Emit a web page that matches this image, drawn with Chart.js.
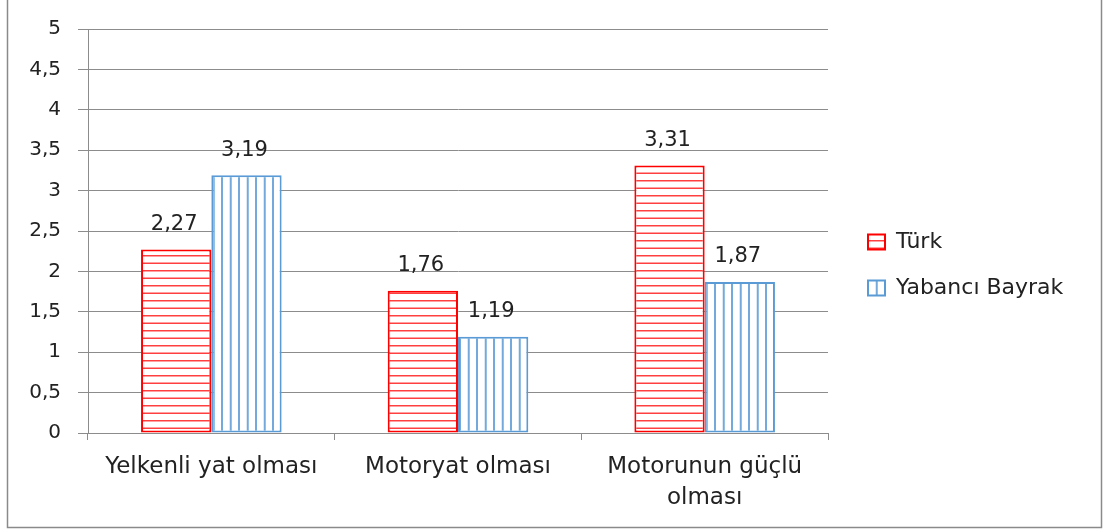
<!DOCTYPE html>
<html>
<head>
<meta charset="utf-8">
<script src="https://cdn.jsdelivr.net/npm/chart.js@4"></script>
<style>
  html, body { margin: 0; padding: 0; background: #fff; }
  #wrap { width: 1103px; height: 532px; }
</style>
</head>
<body>
<div id="wrap"><canvas id="barchart" width="1103" height="532"></canvas></div>
<script>
// data
var categories = [["Yelkenli yat olması"], ["Motoryat olması"], ["Motorunun güçlü", "olması"]];
var seriesNames = ["Türk", "Yabancı Bayrak"];
var turkValues = [2.27, 1.76, 3.31];
var yabanciValues = [3.19, 1.19, 1.87];
var yTicks = [0, 0.5, 1, 1.5, 2, 2.5, 3, 3.5, 4, 4.5, 5];

var textColor = '#222';
var gridColor = '#8c8c8c';
var fontFamily = '"DejaVu Sans", sans-serif';

// hatch fills like the excel patterns
function hatch(lineColor, vertical, step, lineW) {
  var size = step * 2;
  var c = document.createElement('canvas');
  c.width = size;
  c.height = size;
  var g = c.getContext('2d');
  g.fillStyle = '#fff';
  g.fillRect(0, 0, size, size);
  g.fillStyle = lineColor;
  for (var k = 0; k < 2; k++) {
    var p = k * step;
    if (vertical) g.fillRect(p, 0, lineW, size);
    else g.fillRect(0, p, size, lineW);
  }
  return g.createPattern(c, 'repeat');
}

var redFill = hatch('rgba(255,0,0,0.75)', false, 7.5, 1.5);
var blueFill = hatch('rgba(91,155,213,0.85)', true, 8.75, 2);

function comma(v) {
  return String(v).replace('.', ',');
}

// value labels above bars + frame round the chart
var extras = {
  id: 'extras',
  beforeLayout: function (chart) {
    var lg = chart.legend;
    if (lg && !lg._wrapped) {
      var f = lg.fit;
      lg.fit = function () {
        f.call(this);
        this.width = 275;
      };
      lg._wrapped = true;
    }
  },
  afterLayout: function (chart) {
    var lg = chart.legend;
    lg.left += 16;
    lg.right += 16;
    lg.top -= 15;
    lg.bottom -= 15;
  },
  beforeDraw: function (chart) {
    var ctx = chart.ctx;
    ctx.save();
    ctx.strokeStyle = '#8a8a8a';
    ctx.lineWidth = 1.5;
    ctx.strokeRect(7.5, -1, 1094, 528.5);
    ctx.restore();
  },
  afterDatasetsDraw: function (chart) {
    var ctx = chart.ctx;
    ctx.save();
    ctx.font = '21px ' + fontFamily;
    ctx.fillStyle = textColor;
    ctx.textAlign = 'center';
    ctx.textBaseline = 'middle';
    chart.data.datasets.forEach(function (ds, i) {
      var meta = chart.getDatasetMeta(i);
      meta.data.forEach(function (bar, j) {
        ctx.fillText(comma(ds.data[j]), bar.x - 2, bar.y - 25);
      });
    });
    ctx.restore();
  }
};

const data = {
  labels: categories,
  datasets: [{
    label: seriesNames[0],
    data: turkValues,
    backgroundColor: redFill,
    borderColor: '#ff0000',
    borderWidth: 2,
    borderSkipped: false
  }, {
    label: seriesNames[1],
    data: yabanciValues,
    backgroundColor: blueFill,
    borderColor: '#5b9bd5',
    borderWidth: 2,
    borderSkipped: false
  }]
};

const config = {
  type: 'bar',
  data: data,
  options: {
    responsive: false,
    animation: false,
    devicePixelRatio: 1,
    layout: { padding: { top: 28, left: 0, right: 0, bottom: 0 } },
    datasets: {
      bar: { categoryPercentage: 0.57, barPercentage: 1 }
    },
    plugins: {
      tooltip: { enabled: false },
      legend: {
        position: 'right',
        labels: {
          color: textColor,
          font: { family: fontFamily, size: 22 },
          boxWidth: 17,
          boxHeight: 15,
          padding: 24
        }
      }
    },
    scales: {
      x: {
        afterFit: function (s) { s.height = 99; },
        grid: { offset: true, drawOnChartArea: false, color: gridColor, tickLength: 7 },
        border: { color: gridColor },
        ticks: {
          color: textColor,
          padding: 12,
          maxRotation: 0,
          font: { family: fontFamily, size: 23, lineHeight: 1.32 }
        }
      },
      y: {
        min: 0,
        max: 5,
        afterFit: function (s) { s.width = 88; },
        afterBuildTicks: function (s) {
          s.ticks = yTicks.map(function (v) { return { value: v }; });
        },
        grid: { color: gridColor, tickLength: 10 },
        border: { color: gridColor },
        ticks: {
          color: textColor,
          padding: 17,
          font: { family: fontFamily, size: 20 },
          callback: function (v) { return comma(v); }
        }
      }
    }
  },
  plugins: [extras]
};

const myChart = new Chart(document.getElementById('barchart'), config);
</script>
</body>
</html>
